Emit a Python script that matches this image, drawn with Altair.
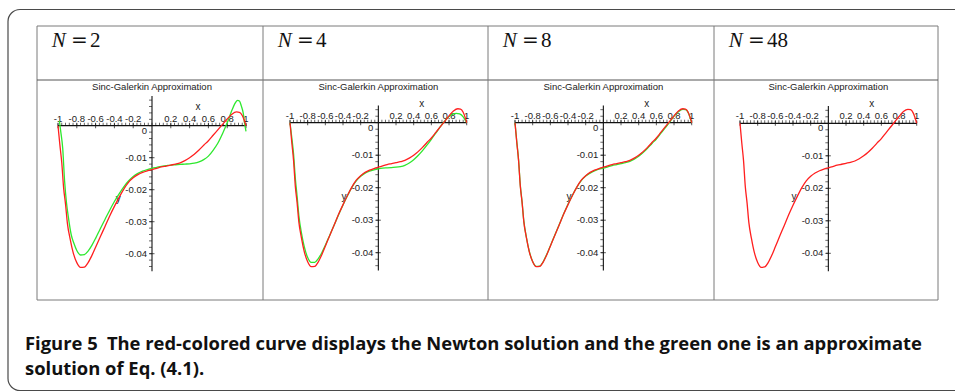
import altair as alt
import pandas as pd
import numpy as np

# ---------------- data ----------------
x_newton = [-1.0, -0.98, -0.96, -0.94, -0.92, -0.9, -0.87, -0.84, -0.8, -0.76, -0.72, -0.68,
            -0.64, -0.6, -0.55, -0.5, -0.45, -0.4, -0.35, -0.3, -0.25, -0.2, -0.15, -0.1,
            -0.05, 0.0, 0.05, 0.1, 0.15, 0.2, 0.25, 0.3, 0.35, 0.4, 0.45, 0.5, 0.55, 0.6,
            0.65, 0.7, 0.75, 0.8, 0.85, 0.9, 0.93, 0.96, 0.98, 1.0]
y_newton = [0.0, -0.006, -0.0115, -0.0195, -0.0245, -0.0305, -0.0355, -0.0395, -0.0428, -0.0443,
            -0.0442, -0.0428, -0.0406, -0.038, -0.0347, -0.0315, -0.0282, -0.0252, -0.0224,
            -0.0198, -0.0177, -0.0163, -0.0153, -0.0146, -0.0141, -0.0137, -0.0133, -0.0129,
            -0.0126, -0.0123, -0.012, -0.0116, -0.0109, -0.01, -0.0089, -0.0076, -0.0061,
            -0.0047, -0.003, -0.0013, 0.0004, 0.0021, 0.0036, 0.0043, 0.0042, 0.0032, 0.0018, 0.0]

x_n2 = [-0.985, -0.97, -0.95, -0.93, -0.91, -0.89, -0.86, -0.83, -0.8, -0.76, -0.72, -0.68,
        -0.64, -0.6, -0.55, -0.5, -0.45, -0.4, -0.35, -0.3, -0.25, -0.2, -0.15, -0.1, -0.05,
        0.0, 0.05, 0.1, 0.15, 0.2, 0.25, 0.3, 0.35, 0.4, 0.45, 0.5, 0.55, 0.6, 0.65, 0.7,
        0.75, 0.8, 0.85, 0.88, 0.91, 0.93, 0.95, 0.97, 0.985, 1.0]
y_n2 = [0.0015, -0.002, -0.007, -0.0172, -0.024, -0.0285, -0.034, -0.0368, -0.039, -0.0404,
        -0.0403, -0.0392, -0.0374, -0.0352, -0.0322, -0.0293, -0.0264, -0.0237, -0.0213,
        -0.0191, -0.0173, -0.0159, -0.0149, -0.0142, -0.0137, -0.0133, -0.013, -0.0127,
        -0.0125, -0.0123, -0.0122, -0.0121, -0.012, -0.0119, -0.0117, -0.0113, -0.0106,
        -0.0095, -0.0077, -0.0055, -0.0025, 0.0009, 0.0048, 0.0068, 0.0079, 0.0077, 0.0062,
        0.004, 0.0008, -0.0018]

x_n4 = [-1.0, -0.98, -0.96, -0.94, -0.92, -0.9, -0.87, -0.84, -0.8, -0.76, -0.72, -0.68,
        -0.64, -0.6, -0.55, -0.5, -0.45, -0.4, -0.35, -0.3, -0.25, -0.2, -0.15, -0.1, -0.05,
        0.0, 0.05, 0.1, 0.15, 0.2, 0.25, 0.3, 0.35, 0.4, 0.45, 0.5, 0.55, 0.6, 0.65, 0.7,
        0.75, 0.8, 0.85, 0.88, 0.92, 0.96, 1.0]
y_n4 = [0.0, -0.0045, -0.0095, -0.017, -0.0225, -0.0285, -0.034, -0.038, -0.0415, -0.043,
        -0.043, -0.0418, -0.04, -0.0377, -0.0346, -0.0315, -0.0283, -0.0253, -0.0225, -0.0199,
        -0.0179, -0.0165, -0.0155, -0.0149, -0.0145, -0.0142, -0.014, -0.0139, -0.0138,
        -0.0137, -0.0135, -0.0131, -0.0124, -0.0114, -0.0101, -0.0086, -0.0069, -0.0051,
        -0.0032, -0.0013, 0.0005, 0.0019, 0.0027, 0.0029, 0.0027, 0.0018, 0.0]

x_n8 = [-1.0, -0.98, -0.96, -0.94, -0.92, -0.9, -0.87, -0.84, -0.8, -0.76, -0.72, -0.68,
        -0.64, -0.6, -0.55, -0.5, -0.45, -0.4, -0.35, -0.3, -0.25, -0.2, -0.15, -0.1,
        -0.05, 0.0, 0.05, 0.1, 0.15, 0.2, 0.25, 0.3, 0.35, 0.4, 0.45, 0.5, 0.55, 0.6,
        0.65, 0.7, 0.75, 0.8, 0.85, 0.9, 0.93, 0.96, 0.98, 1.0]
y_n8 = [0.0, -0.0058, -0.0113, -0.0192, -0.0243, -0.0303, -0.0354, -0.0394, -0.0427, -0.0442,
        -0.0441, -0.0427, -0.0405, -0.0379, -0.0346, -0.0314, -0.0281, -0.0251, -0.0223,
        -0.0198, -0.0178, -0.0164, -0.0155, -0.0148, -0.0143, -0.014, -0.0136, -0.0132,
        -0.0129, -0.0126, -0.0123, -0.0119, -0.0112, -0.0103, -0.0092, -0.0079, -0.0064,
        -0.005, -0.0033, -0.0016, 0.0002, 0.002, 0.0034, 0.0041, 0.004, 0.0031, 0.0017, 0.0]

panel_N = ["2", "4", "8", "48"]
approx_x = [x_n2, x_n4, x_n8, None]
approx_y = [y_n2, y_n4, y_n8, None]

x_tick_values = [-1, -0.8, -0.6, -0.4, -0.2, 0.2, 0.4, 0.6, 0.8, 1]
x_tick_labels = ["-1", "-0.8", "-0.6", "-0.4", "-0.2", "0.2", "0.4", "0.6", "0.8", "1"]
y_tick_values = [-0.01, -0.02, -0.03, -0.04]
y_tick_labels = ["-0.01", "-0.02", "-0.03", "-0.04"]
y_axis_top = [0.0093, 0.0053, 0.0053, 0.0053]
y_axis_bottom = -0.0455

plot_title = "Sinc-Galerkin Approximation"
caption_1 = "Figure 5\u2002The red-colored curve displays the Newton solution and the green one is an approximate"
caption_2 = "solution of Eq. (4.1)."

# ---------------- layout (pixels) ----------------
W, H = 955, 392
col_edges = [37, 263, 488, 714, 938]
table_top, header_bottom, table_bottom = 26, 80, 300
# pixel of x=-1, pixel of x=1, pixel of y=0, pixels per 0.01
geom = [(58, 246, 125.7, 32.0),
        (290, 466.7, 122.7, 32.5),
        (515, 691.7, 122.7, 32.5),
        (740, 916.7, 123.3, 32.5)]

RED = "#ff1f1f"
GREEN = "#2ee82e"
LAB_FONT = "Liberation Sans"
dummy = alt.Data(values=[{}])


def panel(i):
    pl, pr, py0, per = geom[i]
    s = (pr - pl) / 2.0
    xmin = -1 - pl / s
    xmax = xmin + W / s
    k = per / 0.01
    ymax = py0 / k
    ymin = ymax - H / k
    xs = alt.Scale(domain=[xmin, xmax], nice=False, zero=False)
    ys = alt.Scale(domain=[ymin, ymax], nice=False, zero=False)

    def X(f):
        return alt.X(f, type="quantitative", scale=xs, axis=None)

    def Y(f):
        return alt.Y(f, type="quantitative", scale=ys, axis=None)

    layers = []
    # axes lines
    xaxis = pd.DataFrame({"x": [-1.0], "x2": [1.003], "y": [0.0]})
    layers.append(alt.Chart(xaxis).mark_rule(color="#111", strokeWidth=1.3).encode(
        x=X("x"), x2="x2", y=Y("y")))
    yaxis = pd.DataFrame({"x": [0.0], "y": [y_axis_top[i]], "y2": [y_axis_bottom]})
    layers.append(alt.Chart(yaxis).mark_rule(color="#111", strokeWidth=1.1).encode(
        x=X("x"), y=Y("y"), y2="y2"))
    # minor ticks
    xminor = pd.DataFrame({"x": np.round(np.arange(-1.0, 1.0001, 0.04), 3), "y": 0.0})
    layers.append(alt.Chart(xminor).mark_tick(orient="vertical", size=3, thickness=0.9,
                                              color="#111", yOffset=-1.5).encode(x=X("x"), y=Y("y")))
    ymin_t = np.round(np.arange(-0.044, y_axis_top[i], 0.002), 4)
    yminor = pd.DataFrame({"x": 0.0, "y": ymin_t})
    layers.append(alt.Chart(yminor).mark_tick(orient="horizontal", size=3, thickness=0.9,
                                              color="#111", xOffset=-1.5).encode(x=X("x"), y=Y("y")))
    # major ticks
    xmaj = pd.DataFrame({"x": x_tick_values, "y": 0.0, "lab": x_tick_labels})
    layers.append(alt.Chart(xmaj).mark_tick(orient="vertical", size=5, thickness=1,
                                            color="#111").encode(x=X("x"), y=Y("y")))
    ymaj = pd.DataFrame({"x": 0.0, "y": y_tick_values, "lab": y_tick_labels})
    layers.append(alt.Chart(ymaj).mark_tick(orient="horizontal", size=5, thickness=1,
                                            color="#111").encode(x=X("x"), y=Y("y")))
    # tick labels
    layers.append(alt.Chart(xmaj).mark_text(font=LAB_FONT, fontSize=9.5, color="#222",
                                            baseline="bottom", dy=-2, align="center").encode(
        x=X("x"), y=Y("y"), text="lab:N"))
    layers.append(alt.Chart(ymaj).mark_text(font=LAB_FONT, fontSize=9.5, color="#222",
                                            baseline="middle", dx=-5, align="right").encode(
        x=X("x"), y=Y("y"), text="lab:N"))
    zero = pd.DataFrame({"x": [0.0], "y": [0.0], "lab": ["0"]})
    layers.append(alt.Chart(zero).mark_text(font=LAB_FONT, fontSize=9.5, color="#222",
                                            baseline="middle", dx=-5, dy=5, align="right").encode(
        x=X("x"), y=Y("y"), text="lab:N"))
    # axis names
    xname = pd.DataFrame({"x": [0.49], "y": [0.0], "lab": ["x"]})
    layers.append(alt.Chart(xname).mark_text(font=LAB_FONT, fontSize=10, color="#222",
                                             baseline="middle", dy=-19).encode(
        x=X("x"), y=Y("y"), text="lab:N"))
    yname = pd.DataFrame({"x": [-0.36 if i == 0 else -0.39], "y": [-0.0228], "lab": ["y"]})
    layers.append(alt.Chart(yname).mark_text(font=LAB_FONT, fontSize=10, color="#222",
                                             baseline="middle").encode(
        x=X("x"), y=Y("y"), text="lab:N"))
    # title
    ttl = pd.DataFrame({"x": [0.0], "lab": [plot_title]})
    layers.append(alt.Chart(ttl).mark_text(font=LAB_FONT, fontSize=9.5, color="#222",
                                           baseline="middle").encode(
        x=X("x"), y=alt.value(86.5), text="lab:N"))
    # curves
    if approx_x[i] is not None:
        g = pd.DataFrame({"x": approx_x[i], "y": approx_y[i]})
        layers.append(alt.Chart(g).mark_line(color=GREEN, strokeWidth=1.3,
                                             interpolate="monotone").encode(x=X("x"), y=Y("y")))
    r = pd.DataFrame({"x": x_newton, "y": y_newton})
    layers.append(alt.Chart(r).mark_line(color=RED, strokeWidth=1.3,
                                         interpolate="monotone").encode(x=X("x"), y=Y("y")))
    return alt.layer(*layers)


# ---------------- decoration: frame, table, headers, caption ----------------
deco = []
deco.append(alt.Chart(dummy).mark_rect(filled=False, stroke="#4a4a4a", strokeWidth=1.2,
                                       cornerRadius=12).encode(
    x=alt.value(8), x2=alt.value(1100), y=alt.value(9.5), y2=alt.value(390.5)))
deco.append(alt.Chart(dummy).mark_rect(filled=False, stroke="#7a7a7a", strokeWidth=1).encode(
    x=alt.value(col_edges[0]), x2=alt.value(col_edges[-1]),
    y=alt.value(table_top), y2=alt.value(table_bottom)))
deco.append(alt.Chart(dummy).mark_rule(color="#555", strokeWidth=1).encode(
    x=alt.value(col_edges[0]), x2=alt.value(col_edges[-1]), y=alt.value(header_bottom)))
for cx in col_edges[1:-1]:
    deco.append(alt.Chart(dummy).mark_rule(color="#7a7a7a", strokeWidth=1).encode(
        x=alt.value(cx), y=alt.value(table_top), y2=alt.value(table_bottom)))
for i, n in enumerate(panel_N):
    left = col_edges[i]
    deco.append(alt.Chart(dummy).mark_text(text="N", font="Liberation Serif", fontStyle="italic",
                                           fontSize=21, align="left", baseline="alphabetic",
                                           color="#111").encode(
        x=alt.value(left + 14.7), y=alt.value(46.7)))
    deco.append(alt.Chart(dummy).mark_text(text="=", font="DejaVu Serif", fontSize=20,
                                           align="left", baseline="alphabetic", color="#111").encode(
        x=alt.value(left + 34), y=alt.value(46.7)))
    deco.append(alt.Chart(dummy).mark_text(text=n, font="Liberation Serif", fontSize=21,
                                           align="left", baseline="alphabetic", color="#111").encode(
        x=alt.value(left + 53), y=alt.value(46.7)))
CAP_FONT = "Open Sans"
deco.append(alt.Chart(dummy).mark_text(text=caption_1, font=CAP_FONT, fontWeight="bold",
                                       fontSize=18.4, align="left", baseline="alphabetic",
                                       color="#111").encode(x=alt.value(25), y=alt.value(349.5)))
deco.append(alt.Chart(dummy).mark_text(text=caption_2, font=CAP_FONT, fontWeight="bold",
                                       fontSize=18.4, align="left", baseline="alphabetic",
                                       color="#111").encode(x=alt.value(25), y=alt.value(374.5)))
deco_layer = alt.layer(*deco)

chart = alt.layer(panel(0), panel(1), panel(2), panel(3), deco_layer).resolve_scale(
    x="independent", y="independent"
).properties(
    width=W, height=H, padding=0, autosize=alt.AutoSizeParams(type="none"),
    background="white"
).configure_view(stroke=None)

chart.save("out.html", embed_options={"renderer": "svg", "actions": False})
